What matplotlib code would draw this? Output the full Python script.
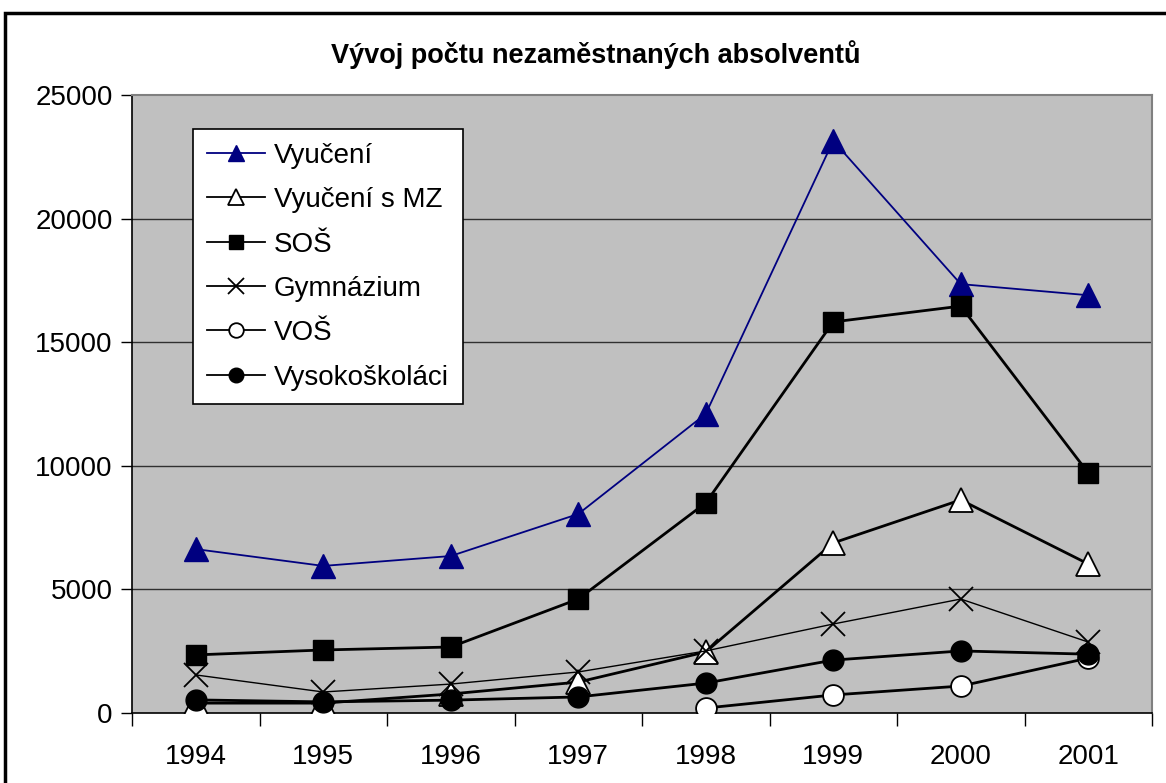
import numpy as np
import matplotlib.pyplot as plt
from matplotlib.patches import Rectangle

# data
years = ["1994", "1995", "1996", "1997", "1998", "1999", "2000", "2001"]
vyuceni = [6630, 5950, 6350, 8050, 12100, 23150, 17350, 16900]
vyuceni_mz = [400, 400, 770, 1250, 2470, 6880, 8620, 6030]
sos = [2350, 2550, 2670, 4610, 8500, 15820, 16460, 9710]
gymnazium = [1540, 850, 1170, 1660, 2510, 3600, 4610, 2870]
vos = [np.nan, np.nan, np.nan, np.nan, 200, 730, 1090, 2220]
vysokoskolaci = [530, 450, 520, 650, 1210, 2140, 2510, 2380]

plt.rcParams['font.family'] = ['Liberation Sans', 'DejaVu Sans']

fig = plt.figure(figsize=(11.66, 7.83), dpi=100)
ax = fig.add_axes([132 / 1166, 70 / 783, 1020 / 1166, 618 / 783])
ax.set_facecolor('#c0c0c0')

x = np.arange(len(years))
ms = 15

ax.plot(x, vyuceni, color='#000080', lw=1.3, marker='^', ms=ms + 2,
        mfc='#000080', mec='#000080', label='Vyučení', zorder=3)
ax.plot(x, vyuceni_mz, color='black', lw=2, marker='^', ms=ms + 2,
        mfc='white', mec='black', mew=1.3, label='Vyučení s MZ', zorder=3)
ax.plot(x, sos, color='black', lw=2, marker='s', ms=ms,
        mfc='black', mec='black', label='SOŠ', zorder=3)
ax.plot(x, gymnazium, color='black', lw=1, marker='x', ms=ms + 2,
        mew=1.3, label='Gymnázium', zorder=3)
ax.plot(x, vos, color='black', lw=2, marker='o', ms=ms,
        mfc='white', mec='black', mew=1.3, label='VOŠ', zorder=3)
ax.plot(x, vysokoskolaci, color='black', lw=2, marker='o', ms=ms,
        mfc='black', mec='black', label='Vysokoškoláci', zorder=4)

ax.set_xlim(-0.5, len(years) - 0.5)
ax.set_ylim(0, 25000)
ax.set_yticks(np.arange(0, 25001, 5000))
ax.set_xticks(x)
ax.set_xticklabels(years)
ax.set_xticks(np.arange(-0.5, len(years), 1), minor=True)
ax.tick_params(axis='x', which='major', length=0, pad=22, labelsize=20)
ax.tick_params(axis='x', which='minor', length=9, width=1, direction='out')
ax.tick_params(axis='y', length=8, width=1, direction='out', pad=6, labelsize=20)

for v in range(5000, 25000, 5000):
    ax.axhline(v, color='#303030', lw=1, zorder=1)

for side in ['top', 'right']:
    ax.spines[side].set_color('#808080')
    ax.spines[side].set_linewidth(1.5)
for side in ['left', 'bottom']:
    ax.spines[side].set_color('black')
    ax.spines[side].set_linewidth(1.2)

fig.text(596 / 1166, 1 - 55 / 783, 'Vývoj počtu nezaměstnaných absolventů',
         ha='center', va='center', fontsize=19.5, fontweight='bold')

leg = ax.legend(loc='upper left', bbox_to_anchor=(0.06, 0.945), borderaxespad=0,
                fontsize=20, fancybox=False, framealpha=1, edgecolor='black',
                markerscale=0.7, handlelength=2.1, handletextpad=0.3,
                labelspacing=0.66, borderpad=0.5)
leg.get_frame().set_linewidth(1.2)
for line in leg.get_lines():
    line.set_linewidth(1.3)

# outer chart frame
fig.patches.append(Rectangle((5 / 1166, -0.05), 1.2, 1 - 13 / 783 + 0.05,
                             transform=fig.transFigure, fill=False,
                             edgecolor='black', lw=2.5))

fig.savefig('out.png', dpi=100)
